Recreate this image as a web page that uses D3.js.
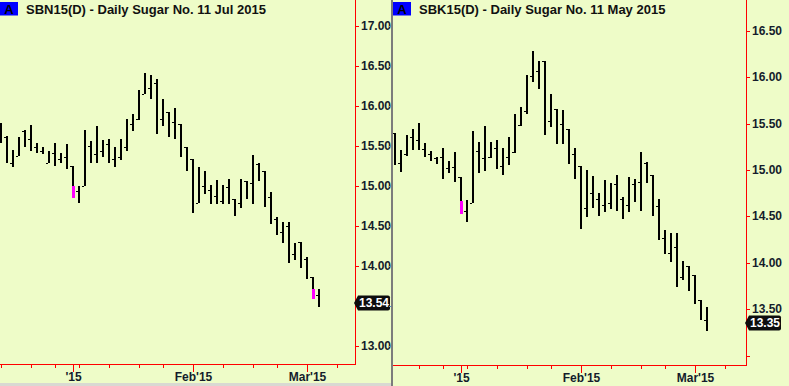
<!DOCTYPE html>
<html>
<head>
<meta charset="utf-8">
<script src="https://cdn.jsdelivr.net/npm/d3@7"></script>
<style>
    html, body { margin: 0; padding: 0; background: #eefcc8; }
    svg { display: block; font-family: Arial, "Liberation Sans", sans-serif; }
</style>
</head>
<body>
<div id="chart"></div>
<script>
// Trading days on the x axis (last few are empty space to the right)
const days = [
    '2014-12-15','2014-12-16','2014-12-17','2014-12-18','2014-12-19','2014-12-22','2014-12-23','2014-12-24',
    '2014-12-26','2014-12-29','2014-12-30','2014-12-31','2015-01-02','2015-01-05','2015-01-06','2015-01-07',
    '2015-01-08','2015-01-09','2015-01-12','2015-01-13','2015-01-14','2015-01-15','2015-01-16','2015-01-20',
    '2015-01-21','2015-01-22','2015-01-23','2015-01-26','2015-01-27','2015-01-28','2015-01-29','2015-01-30',
    '2015-02-02','2015-02-03','2015-02-04','2015-02-05','2015-02-06','2015-02-09','2015-02-10','2015-02-11',
    '2015-02-12','2015-02-13','2015-02-17','2015-02-18','2015-02-19','2015-02-20','2015-02-23','2015-02-24',
    '2015-02-25','2015-02-26','2015-02-27','2015-03-02','2015-03-03','2015-03-04','2015-03-05','2015-03-06',
    '2015-03-09','2015-03-10','2015-03-11','2015-03-12'
];

// SBN15 - Sugar No. 11 Jul 2015 (Dec 15 .. Mar 4)
const highN = [15.79,15.62,15.45,15.61,15.70,15.76,15.54,15.49,15.43,15.54,
    15.41,15.52,15.25,14.99,15.70,15.56,15.74,15.57,15.58,15.49,
    15.58,15.83,15.90,16.20,16.41,16.38,16.34,16.08,15.92,15.97,
    15.77,15.48,15.33,15.23,15.18,15.01,15.07,15.01,15.08,14.84,
    15.08,15.06,15.38,15.28,15.18,14.92,14.61,14.55,14.55,14.29,
    14.30,14.11,13.86,13.71];
const lowN = [15.53,15.29,15.23,15.37,15.48,15.43,15.41,15.39,15.29,15.24,
    15.28,15.21,14.85,14.78,14.99,15.28,15.29,15.36,15.29,15.23,
    15.32,15.43,15.69,15.82,16.15,16.08,15.64,15.74,15.61,15.58,
    15.36,15.18,14.66,14.79,14.89,14.77,14.77,14.77,14.77,14.62,
    14.72,14.83,14.77,15.06,14.73,14.52,14.38,14.28,14.03,14.07,
    13.97,13.84,13.59,13.49];
const tickN = [15.70,15.61,15.29,15.37,15.69,15.58,15.48,15.43,15.29,15.41,
    15.33,15.36,15.25,14.93,15.00,15.50,15.40,15.43,15.52,15.33,
    15.36,15.49,15.77,15.83,16.15,16.22,16.29,15.83,15.92,15.80,
    15.77,15.48,15.33,14.79,14.99,14.95,14.87,14.81,14.98,14.84,
    14.79,15.06,15.03,15.27,15.18,14.86,14.59,14.42,14.50,14.15,
    14.30,14.08,13.86,13.63];
const markDatesN = ['2015-01-02', '2015-03-03'];
const markTopN = [14.99, 13.71];
const markBottomN = [14.85, 13.59];
const lastN = 13.54;

// SBK15 - Sugar No. 11 May 2015 (Dec 16 .. Mar 4)
const highK = [15.40,15.22,15.38,15.44,15.51,15.29,15.20,15.14,15.24,15.10,
    15.19,14.92,14.68,15.42,15.30,15.47,15.30,15.32,15.24,15.35,
    15.60,15.68,16.02,16.28,16.17,16.17,15.82,15.66,15.65,15.44,
    15.24,15.04,15.00,14.94,14.75,14.89,14.86,14.95,14.71,14.93,
    14.90,15.19,15.09,14.95,14.69,14.35,14.32,14.32,14.02,13.97,
    13.87,13.60,13.53];
const lowK = [15.05,14.98,15.15,15.22,15.21,15.14,15.10,15.06,14.90,14.97,
    14.87,14.53,14.44,14.64,14.97,14.99,15.13,15.01,14.95,15.05,
    15.18,15.47,15.60,15.95,15.87,15.38,15.46,15.28,15.28,15.06,
    14.90,14.37,14.49,14.59,14.51,14.55,14.58,14.56,14.47,14.55,
    14.66,14.56,14.86,14.51,14.25,14.10,14.01,13.74,13.82,13.70,
    13.56,13.38,13.27];
const tickK = [15.40,15.08,15.17,15.35,15.32,15.23,15.17,15.13,15.14,15.02,
    15.03,14.92,14.56,14.65,15.20,15.13,15.14,15.24,15.04,15.14,
    15.19,15.48,15.63,16.01,16.07,16.17,15.53,15.66,15.49,15.44,
    15.17,15.04,14.59,14.75,14.69,14.62,14.64,14.85,14.69,14.62,
    14.85,14.87,15.08,14.95,14.61,14.27,14.11,14.17,13.85,13.97,
    13.87,13.60,13.39];
const markDatesK = ['2015-01-02'];
const markTopK = [14.67];
const markBottomK = [14.53];
const lastK = 13.35;

const yTicksN = [13, 13.5, 14, 14.5, 15, 15.5, 16, 16.5, 17];
const yTicksK = [13, 13.5, 14, 14.5, 15, 15.5, 16, 16.5];

function draw() {
    // Dimensions
    const dimensions = { width: 789, height: 386, separator: 391 };

    const parseDay = d3.timeParse('%Y-%m-%d');
    const dayDates = days.map(parseDay);

    const majorIdx = [];
    const minorIdx = [];
    dayDates.forEach((d, i) => {
        if (i === 0) { minorIdx.push(i); return; }
        const prev = dayDates[i - 1];
        if (d.getMonth() !== prev.getMonth()) majorIdx.push(i);
        if (+d3.timeMonday.floor(d) !== +d3.timeMonday.floor(prev)) minorIdx.push(i);
    });
    const monthLabel = i => dayDates[i].getMonth() === 0
        ? d3.timeFormat("'%y")(dayDates[i])
        : d3.timeFormat("%b'%y")(dayDates[i]);

    const panels = [
        {
            key: 'n', title: 'SBN15(D) - Daily  Sugar No. 11 Jul 2015',
            left: 0, width: 355, axisY: 364.5, xRange: [1, 355],
            // the 13.50 label sits under the last-price flag
            yDomain: [13, 17], yRange: [345.7, 25.7], yTicks: yTicksN, hideLabel: [13.5],
            dates: days.slice(0, 54), high: highN, low: lowN, tick: tickN,
            marks: markDatesN.map((d, k) => ({ date: d, top: markTopN[k], bottom: markBottomN[k] })),
            last: lastN
        },
        {
            key: 'k', title: 'SBK15(D) - Daily  Sugar No. 11 May 2015',
            left: 393, width: 353, axisY: 365.5, xRange: [-4, 350],
            yDomain: [13.5, 16.5], yRange: [309.3, 30.7], yTicks: yTicksK, hideLabel: [13],
            dates: days.slice(1, 54), high: highK, low: lowK, tick: tickK,
            marks: markDatesK.map((d, k) => ({ date: d, top: markTopK[k], bottom: markBottomK[k] })),
            last: lastK
        }
    ];

    const svg = d3.select('#chart')
        .append('svg')
        .attr('width', dimensions.width)
        .attr('height', dimensions.height);

    svg.append('rect')
        .attr('width', dimensions.width)
        .attr('height', dimensions.height)
        .attr('fill', '#eefcc8');

    // light strip under the left pane and the grey pane divider
    svg.append('rect')
        .attr('x', 0).attr('y', 383)
        .attr('width', dimensions.separator).attr('height', 3)
        .attr('fill', '#d9d9d2');

    svg.append('rect')
        .attr('x', dimensions.separator).attr('y', 0)
        .attr('width', 2).attr('height', dimensions.height)
        .attr('fill', '#7c7c7c');

    panels.forEach(p => {
        const xScale = d3.scaleLinear()
            .domain([0, 59])
            .range(p.xRange);

        const yScale = d3.scaleLinear()
            .domain(p.yDomain)
            .range(p.yRange)
            .interpolate(d3.interpolateRound);

        const xOf = d => Math.round(xScale(days.indexOf(d)));

        const ctr = svg.append('g')
            .attr('transform', `translate(${p.left},0)`);

        ctr.append('clipPath')
            .attr('id', `clip-${p.key}`)
            .append('rect')
            .attr('width', p.width)
            .attr('height', p.axisY);

        const plot = ctr.append('g')
            .attr('clip-path', `url(#clip-${p.key})`);

        const bars = p.dates.map((d, k) => ({
            date: d, high: p.high[k], low: p.low[k], tick: p.tick[k]
        }));

        // Draw Bars
        plot.append('g')
            .selectAll('rect')
            .data(bars)
            .join('rect')
            .attr('x', d => xOf(d.date) - 1)
            .attr('y', d => yScale(d.high))
            .attr('width', 2)
            .attr('height', d => Math.max(1, yScale(d.low) - yScale(d.high)))
            .attr('fill', '#000');

        plot.append('g')
            .selectAll('rect')
            .data(bars)
            .join('rect')
            .attr('x', d => xOf(d.date) - 3)
            .attr('y', d => yScale(d.tick))
            .attr('width', 2)
            .attr('height', 1)
            .attr('fill', '#000');

        plot.append('g')
            .selectAll('rect')
            .data(p.marks)
            .join('rect')
            .attr('x', d => xOf(d.date) - 1)
            .attr('y', d => yScale(d.top))
            .attr('width', 3)
            .attr('height', d => yScale(d.bottom) - yScale(d.top))
            .attr('fill', '#ff00ff');

        // Axes
        const inPane = i => xScale(i) >= 0 && xScale(i) <= p.width;

        const minorAxis = d3.axisBottom(xScale)
            .tickValues(minorIdx.filter(inPane))
            .tickSize(4)
            .tickSizeOuter(0)
            .tickFormat('');

        const majorAxis = d3.axisBottom(xScale)
            .tickValues(majorIdx.filter(inPane))
            .tickSize(8)
            .tickSizeOuter(0)
            .tickPadding(0)
            .tickFormat(monthLabel);

        [minorAxis, majorAxis].forEach(axis => {
            const g = ctr.append('g')
                .attr('transform', `translate(0,${p.axisY - 0.5})`)
                .call(axis);
            g.select('.domain').remove();
            g.selectAll('line').attr('stroke', '#ff0000');
            g.selectAll('text')
                .attr('fill', '#141c2c')
                .style('font-size', '12px')
                .style('font-weight', 'bold');
        });

        const yAxis = d3.axisRight(yScale)
            .tickValues(p.yTicks)
            .tickSize(4)
            .tickSizeOuter(0)
            .tickPadding(2)
            .tickFormat(v => p.hideLabel.includes(v) ? '' : d3.format('.2f')(v));

        const yAxisGroup = ctr.append('g')
            .attr('transform', `translate(${p.width},0)`)
            .call(yAxis);
        yAxisGroup.select('.domain').remove();
        yAxisGroup.selectAll('line').attr('stroke', '#ff0000');
        yAxisGroup.selectAll('text')
            .attr('fill', '#141c2c')
            .style('font-size', '12px')
            .style('font-weight', 'bold');

        ctr.append('line')
            .attr('x1', p.width + 0.5).attr('x2', p.width + 0.5)
            .attr('y1', 0).attr('y2', p.axisY + 0.5)
            .attr('stroke', '#ff0000');

        ctr.append('line')
            .attr('x1', 0).attr('x2', p.width + 0.5)
            .attr('y1', p.axisY).attr('y2', p.axisY)
            .attr('stroke', '#ff0000');

        // Title
        ctr.append('rect')
            .attr('x', 0).attr('y', 2)
            .attr('width', 18).attr('height', 13.5)
            .attr('fill', '#0000ff');

        ctr.append('text')
            .attr('x', 9).attr('y', 13.5)
            .attr('text-anchor', 'middle')
            .attr('fill', '#000')
            .style('font-size', '13px')
            .style('font-weight', 'bold')
            .text('A');

        ctr.append('text')
            .attr('x', 26).attr('y', 13.5)
            .attr('fill', '#111')
            .style('font-size', '13px')
            .style('font-weight', 'bold')
            .text(p.title);

        // Last price flag
        const ly = yScale(p.last);
        const x0 = p.width - 1;
        const flag = d3.path();
        flag.moveTo(x0, ly);
        flag.lineTo(x0 + 4, ly - 7.5);
        flag.lineTo(x0 + 34, ly - 7.5);
        flag.quadraticCurveTo(x0 + 36, ly - 7.5, x0 + 36, ly - 5.5);
        flag.lineTo(x0 + 36, ly + 5.5);
        flag.quadraticCurveTo(x0 + 36, ly + 7.5, x0 + 34, ly + 7.5);
        flag.lineTo(x0 + 4, ly + 7.5);
        flag.closePath();

        ctr.append('path')
            .attr('d', flag.toString())
            .attr('fill', '#0d0d0d');

        ctr.append('text')
            .attr('x', x0 + 5)
            .attr('y', ly)
            .attr('dy', '0.36em')
            .attr('fill', '#fff')
            .style('font-size', '12px')
            .style('font-weight', 'bold')
            .text(d3.format('.2f')(p.last));
    });

    // little blue marks on the divider at the left pane's price levels
    const yLeft = d3.scaleLinear().domain(panels[0].yDomain).range(panels[0].yRange);
    svg.append('g')
        .selectAll('line')
        .data(yTicksN)
        .join('line')
        .attr('x1', 389).attr('x2', 391)
        .attr('y1', d => Math.round(yLeft(d)) + 0.5)
        .attr('y2', d => Math.round(yLeft(d)) + 0.5)
        .attr('stroke', '#4f94cd');
}

draw();
</script>
</body>
</html>
